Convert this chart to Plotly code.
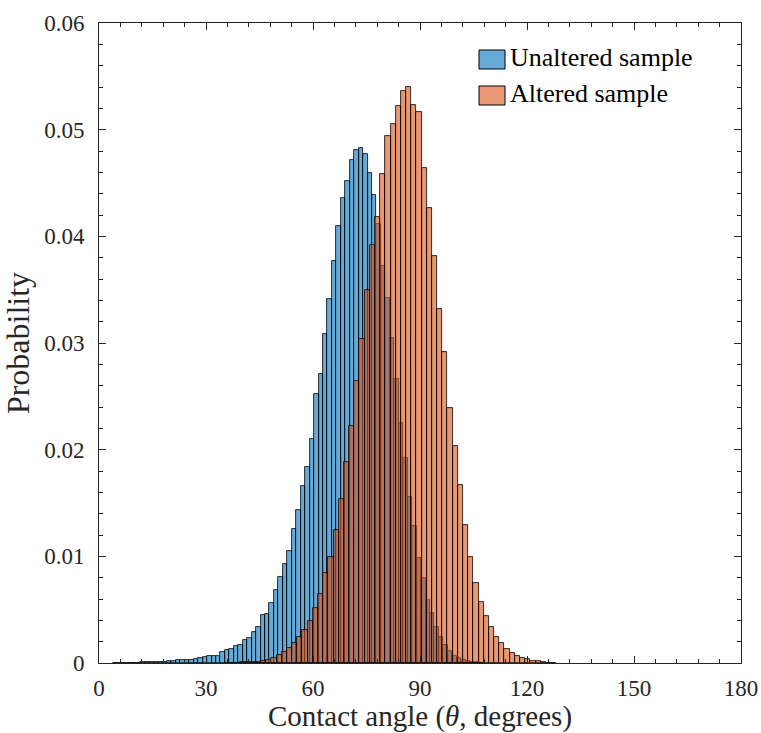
import numpy as np
import plotly.graph_objects as go

# ---- data (probability per bin) ----
unaltered_first_edge = 4.05     # degrees, left edge of first bin
unaltered_bin_width = 1.25      # degrees
unaltered_prob = [
    0.00001, 0.00001, 0.00002, 0.00002, 0.00003, 0.00003, 0.00005, 0.00006, 0.00008, 0.00010,
    0.00010, 0.00012, 0.00016, 0.00019, 0.00025, 0.00028, 0.00028, 0.00031, 0.00037, 0.00044,
    0.00058, 0.00064, 0.00061, 0.00070, 0.00100, 0.00120, 0.00130, 0.00157, 0.00166, 0.00213,
    0.00235, 0.00291, 0.00340, 0.00450, 0.00460, 0.00562, 0.00685, 0.00806, 0.00924, 0.01053,
    0.01253, 0.01434, 0.01659, 0.01840, 0.02104, 0.02522, 0.02709, 0.03084, 0.03410, 0.03769,
    0.04097, 0.04359, 0.04522, 0.04718, 0.04806, 0.04825, 0.04769, 0.04593, 0.04383, 0.04115,
    0.03720, 0.03418, 0.03044, 0.02660, 0.02247, 0.01922, 0.01553, 0.01282, 0.00983, 0.00796,
    0.00595, 0.00466, 0.00334, 0.00241, 0.00166, 0.00113, 0.00066, 0.00050, 0.00031, 0.00019,
    0.00010, 0.00005, 0.00003,
]

altered_first_edge = 35.27      # degrees
altered_bin_width = 1.452       # degrees
altered_prob = [
    0.00001, 0.00002, 0.00003, 0.00005, 0.00007, 0.00010, 0.00012, 0.00022, 0.00031, 0.00050,
    0.00072, 0.00100, 0.00138, 0.00185, 0.00244, 0.00307, 0.00391, 0.00513, 0.00644, 0.00840,
    0.00997, 0.01244, 0.01540, 0.01887, 0.02225, 0.02644, 0.03037, 0.03494, 0.03921, 0.04184,
    0.04581, 0.04937, 0.05050, 0.05220, 0.05366, 0.05397, 0.05228, 0.05163, 0.04644, 0.04262,
    0.03819, 0.03319, 0.02913, 0.02394, 0.02031, 0.01666, 0.01297, 0.00997, 0.00750, 0.00569,
    0.00444, 0.00334, 0.00241, 0.00185, 0.00134, 0.00091, 0.00063, 0.00050, 0.00038, 0.00022,
    0.00016, 0.00007, 0.00004, 0.00002,
]

series_names = ["Unaltered sample", "Altered sample"]
x_tick_vals = [0, 30, 60, 90, 120, 150, 180]
y_tick_vals = [0, 0.01, 0.02, 0.03, 0.04, 0.05, 0.06]
y_tick_text = ["0", "0.01", "0.02", "0.03", "0.04", "0.05", "0.06"]

# ---- figure ----
W, H = 761, 733
ML, MR, MT, MB = 99, 20, 23, 70
FONT = "Liberation Serif"
AX = "#262626"
BLUE = "rgba(0,114,189,0.6)"
ORANGE = "rgba(217,83,25,0.6)"

def centers(first_edge, width, n):
    return first_edge + width * (np.arange(n) + 0.5)

fig = go.Figure()
fig.add_trace(go.Bar(
    x=centers(unaltered_first_edge, unaltered_bin_width, len(unaltered_prob)),
    y=unaltered_prob, width=unaltered_bin_width, name=series_names[0],
    marker=dict(color=BLUE, line=dict(color="black", width=0.8)),
))
fig.add_trace(go.Bar(
    x=centers(altered_first_edge, altered_bin_width, len(altered_prob)),
    y=altered_prob, width=altered_bin_width, name=series_names[1],
    marker=dict(color=ORANGE, line=dict(color="black", width=0.8)),
))

axis_common = dict(
    showline=True, linecolor=AX, linewidth=1, mirror="ticks",
    ticks="inside", ticklen=7, tickcolor=AX, tickwidth=1,
    showgrid=False, zeroline=False, automargin=False,
    tickfont=dict(family=FONT, size=23, color=AX),
)
fig.update_xaxes(
    range=[0, 180], tickvals=x_tick_vals, ticklabelstandoff=4,
    minor=dict(dtick=6, ticks="inside", ticklen=4, tickcolor=AX, showgrid=False),
    title=dict(text="Contact angle (<i>θ</i>, degrees)", font=dict(family=FONT, size=29, color=AX), standoff=9),
    **axis_common,
)
fig.update_yaxes(
    range=[0, 0.06], tickvals=y_tick_vals, ticktext=y_tick_text, ticklabelstandoff=9,
    minor=dict(dtick=0.002, ticks="inside", ticklen=4, tickcolor=AX, showgrid=False),
    title=dict(text="Probability", font=dict(family=FONT, size=32, color=AX), standoff=10),
    **axis_common,
)

# legend drawn as patches + text, in pixel positions converted to paper coords
pw, ph = W - ML - MR, H - MT - MB
def px(x):
    return (x - ML) / pw
def py(y):
    return (H - MB - y) / ph

legend_rows = [(50, 69, BLUE), (86, 105, ORANGE)]
shapes = []
annotations = []
for (y0, y1, col), name in zip(legend_rows, series_names):
    shapes.append(dict(type="rect", xref="paper", yref="paper",
                       x0=px(479), x1=px(505), y0=py(y1), y1=py(y0),
                       fillcolor=col, line=dict(color="black", width=1)))
    annotations.append(dict(xref="paper", yref="paper", x=px(508), y=py((y0 + y1) / 2 - 2),
                            xanchor="left", yanchor="middle", text=name, showarrow=False,
                            font=dict(family=FONT, size=26, color="black")))

fig.update_layout(
    width=W, height=H,
    margin=dict(l=ML, r=MR, t=MT, b=MB),
    paper_bgcolor="white", plot_bgcolor="white",
    barmode="overlay", bargap=0, showlegend=False,
    shapes=shapes, annotations=annotations,
    font=dict(family=FONT, color=AX),
)

# remove the browser's default 8px body margin so the figure fills the window exactly
fig.write_html("out.html", config={"displayModeBar": False},
               post_script="document.body.style.margin='0';")
